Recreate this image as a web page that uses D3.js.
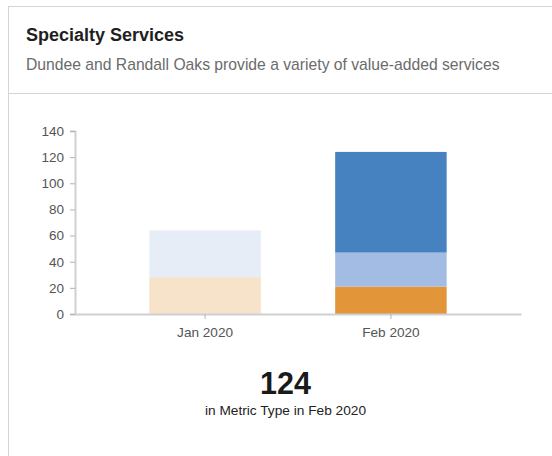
<!DOCTYPE html>
<html>
<head>
<meta charset="utf-8">
<script src="https://cdn.jsdelivr.net/npm/d3@7"></script>
<style>
  html, body { margin: 0; padding: 0; background: #fff; }
  body { width: 552px; height: 456px; overflow: hidden; font-family: "Liberation Sans", Arial, sans-serif; }
  svg text { font-family: "Liberation Sans", Arial, sans-serif; }
</style>
</head>
<body>
<svg id="chart" width="552" height="456"></svg>
<script>
// Monthly service counts, stacked by service type
const months = ["Jan 2020", "Feb 2020"];
const serviceA = [28, 21];   // orange segment
const serviceB = [36, 26];   // light blue segment
const serviceC = [0, 77];    // dark blue segment
const yTicks = [0, 20, 40, 60, 80, 100, 120, 140];
const seriesColors = ["#e3953a", "#a3bce3", "#4682c0"];
const selectedMonth = "Feb 2020";

const svg = d3.select("#chart");

// Card frame
svg.append("rect")
  .attr("x", 8.5).attr("y", 6.5)
  .attr("width", 560).attr("height", 460)
  .attr("fill", "#fff").attr("stroke", "#d4d4d8").attr("stroke-width", 1);
svg.append("line")
  .attr("x1", 9).attr("x2", 552).attr("y1", 93.5).attr("y2", 93.5)
  .attr("stroke", "#d4d4d8");

svg.append("text")
  .attr("x", 26).attr("y", 41)
  .attr("font-size", 18).attr("font-weight", "bold").attr("fill", "#1f1f1f")
  .text("Specialty Services");
svg.append("text")
  .attr("x", 26).attr("y", 70)
  .attr("font-size", 15.7).attr("fill", "#6b6b6b")
  .text("Dundee and Randall Oaks provide a variety of value-added services");

// Scales
const x = d3.scaleBand().domain(months).range([75, 521]).paddingInner(0.4).paddingOuter(0.4);
const y = d3.scaleLinear().domain([0, 140]).range([314, 131]);

const rows = months.map((m, i) => ({ month: m, a: serviceA[i], b: serviceB[i], c: serviceC[i] }));
const stack = d3.stack().keys(["a", "b", "c"]);
const layers = stack(rows);

// Axes
const yAxis = svg.append("g")
  .attr("transform", "translate(75,0)")
  .call(d3.axisLeft(y).tickValues(yTicks).tickSize(5).tickPadding(6));
yAxis.select(".domain").attr("stroke", "#cdd0d4").attr("stroke-width", 2);
yAxis.selectAll(".tick line").attr("stroke", "#b0b3b8");
yAxis.selectAll(".tick text").attr("font-size", 13.5).attr("fill", "#555").attr("font-family", "Liberation Sans, Arial, sans-serif");

// Bars
svg.append("g").selectAll("g").data(layers).join("g")
  .attr("fill", (d, i) => seriesColors[i])
  .selectAll("rect").data(d => d).join("rect")
  .attr("x", d => x(d.data.month))
  .attr("width", x.bandwidth())
  .attr("y", d => y(d[1]))
  .attr("height", d => y(d[0]) - y(d[1]))
  .attr("opacity", d => d.data.month === selectedMonth ? 1 : 0.27);

const xAxis = svg.append("g")
  .attr("transform", "translate(0,314)")
  .call(d3.axisBottom(x).tickSize(5).tickPadding(8).tickSizeOuter(0));
xAxis.select(".domain").attr("stroke", "#cdd0d4").attr("stroke-width", 2);
xAxis.selectAll(".tick line").attr("stroke", "#b0b3b8");
xAxis.selectAll(".tick text").attr("font-size", 13.6).attr("fill", "#555").attr("font-family", "Liberation Sans, Arial, sans-serif");

// Summary figure for the selected month
const selIdx = months.indexOf(selectedMonth);
const total = serviceA[selIdx] + serviceB[selIdx] + serviceC[selIdx];
svg.append("text")
  .attr("x", 285.5).attr("y", 394)
  .attr("text-anchor", "middle")
  .attr("font-size", 30.5).attr("font-weight", "bold").attr("fill", "#1a1a1a")
  .text(total);
svg.append("text")
  .attr("x", 285.5).attr("y", 415)
  .attr("text-anchor", "middle")
  .attr("font-size", 13.7).attr("fill", "#222")
  .text("in Metric Type in " + selectedMonth);
</script>
</body>
</html>
